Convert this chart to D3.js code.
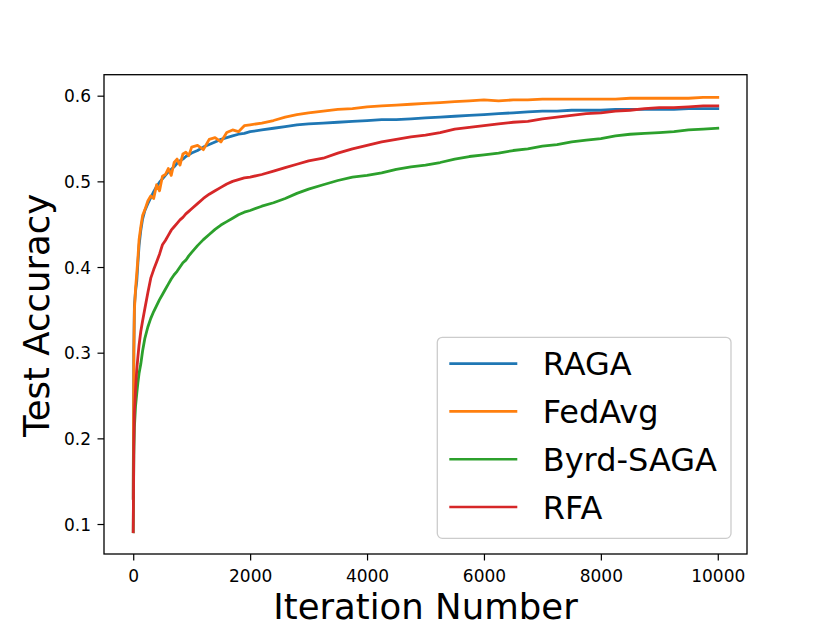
<!DOCTYPE html>
<html>
<head>
<meta charset="utf-8">
<script src="https://cdn.jsdelivr.net/npm/d3@7"></script>
<style>
  html, body { margin: 0; padding: 0; background: #fff; }
  svg { display: block; font-family: "DejaVu Sans", sans-serif; }
</style>
</head>
<body>
<svg id="chart" width="830" height="623"></svg>
<script>
// ---- data ----
const iterations = [0, 10, 20, 40, 60, 80, 100, 130, 160, 200,
  250, 300, 350, 400, 450, 500, 550, 600, 650, 700, 750, 800, 850, 900, 950, 1000,
  1100, 1200, 1300, 1400, 1500, 1600, 1700, 1800, 1900, 2000,
  2200, 2400, 2600, 2800, 3000,
  3250, 3500, 3750, 4000, 4250, 4500, 4750, 5000, 5250, 5500, 5750, 6000,
  6250, 6500, 6750, 7000, 7250, 7500, 7750, 8000, 8250, 8500, 8750, 9000,
  9250, 9500, 9750, 10000];

const ragaValues = [0.13, 0.30, 0.355, 0.372, 0.383, 0.405, 0.425, 0.443, 0.456, 0.466,
  0.474, 0.481, 0.488, 0.494, 0.499, 0.503, 0.507, 0.511, 0.514, 0.517, 0.521, 0.524, 0.526, 0.529, 0.531, 0.533,
  0.536, 0.540, 0.543, 0.546, 0.549, 0.551, 0.553, 0.555, 0.556, 0.558,
  0.560, 0.562, 0.564, 0.566, 0.567,
  0.568, 0.569, 0.570, 0.571, 0.572, 0.572, 0.573, 0.574, 0.575, 0.576, 0.577, 0.578,
  0.579, 0.580, 0.581, 0.582, 0.582, 0.583, 0.583, 0.583, 0.584, 0.584, 0.584, 0.584,
  0.584, 0.585, 0.585, 0.585];

const fedavgValues = [0.13, 0.30, 0.35, 0.375, 0.392, 0.41, 0.432, 0.447, 0.460, 0.467,
  0.477, 0.483, 0.480, 0.496, 0.489, 0.506, 0.508, 0.515, 0.507, 0.522, 0.526, 0.519, 0.532, 0.534, 0.530, 0.540,
  0.542, 0.537, 0.549, 0.551, 0.546, 0.557, 0.560, 0.558, 0.565, 0.566,
  0.568, 0.571, 0.575, 0.578, 0.580,
  0.582, 0.584, 0.585, 0.587, 0.588, 0.589, 0.590, 0.591, 0.592, 0.593, 0.594, 0.595,
  0.594, 0.595, 0.595, 0.596, 0.596, 0.596, 0.596, 0.596, 0.596, 0.597, 0.597, 0.597,
  0.597, 0.597, 0.598, 0.598];

const byrdSagaValues = [0.091, 0.180, 0.213, 0.238, 0.252, 0.265, 0.276, 0.287, 0.302, 0.317,
  0.330, 0.340, 0.348, 0.355, 0.362, 0.368, 0.374, 0.380, 0.386, 0.391, 0.395, 0.400, 0.405, 0.408, 0.413, 0.417,
  0.425, 0.432, 0.438, 0.444, 0.449, 0.453, 0.457, 0.461, 0.464, 0.466,
  0.471, 0.475, 0.480, 0.486, 0.491,
  0.496, 0.501, 0.505, 0.507, 0.510, 0.514, 0.517, 0.519, 0.522, 0.526, 0.529, 0.531,
  0.533, 0.536, 0.538, 0.541, 0.543, 0.546, 0.548, 0.550, 0.553, 0.555, 0.556, 0.557,
  0.558, 0.560, 0.561, 0.562];

const rfaValues = [0.091, 0.190, 0.230, 0.258, 0.280, 0.295, 0.309, 0.325, 0.337, 0.352,
  0.370, 0.387, 0.397, 0.406, 0.415, 0.426, 0.431, 0.437, 0.443, 0.447, 0.451, 0.455, 0.458, 0.462, 0.465, 0.468,
  0.474, 0.480, 0.485, 0.489, 0.493, 0.497, 0.500, 0.502, 0.504, 0.505,
  0.508, 0.512, 0.516, 0.520, 0.524,
  0.527, 0.533, 0.538, 0.542, 0.546, 0.549, 0.552, 0.554, 0.557, 0.561, 0.563, 0.565,
  0.567, 0.569, 0.570, 0.573, 0.575, 0.577, 0.579, 0.580, 0.582, 0.583, 0.585, 0.586,
  0.586, 0.587, 0.588, 0.588];

const seriesNames = ["RAGA", "FedAvg", "Byrd-SAGA", "RFA"];
const seriesColors = ["#1f77b4", "#ff7f0e", "#2ca02c", "#d62728"];
const xTicks = [0, 2000, 4000, 6000, 8000, 10000];
const yTicks = [0.1, 0.2, 0.3, 0.4, 0.5, 0.6];
const xLabel = "Iteration Number";
const yLabel = "Test Accuracy";

// ---- layout ----
const L = 104, R = 747, T = 74.7, B = 554;
const svg = d3.select("#chart");
const x = d3.scaleLinear().domain([-500, 10500]).range([L, R]);
const y = d3.scaleLinear().domain([0.065, 0.6245]).range([B, T]);

const allValues = [ragaValues, fedavgValues, byrdSagaValues, rfaValues];
const series = seriesNames.map((name, i) => ({
  name, color: seriesColors[i],
  points: iterations.map((it, j) => [it, allValues[i][j]])
}));

const plot = svg.append("g");
plot.append("defs").append("clipPath").attr("id", "clip")
  .append("rect").attr("x", L).attr("y", T).attr("width", R - L).attr("height", B - T);

const line = d3.line().x(d => x(d[0])).y(d => y(d[1]));
plot.append("g").attr("clip-path", "url(#clip)")
  .selectAll("path").data(series).join("path")
  .attr("d", d => line(d.points))
  .attr("fill", "none")
  .attr("stroke", d => d.color)
  .attr("stroke-width", 2.8)
  .attr("stroke-linejoin", "round")
  .attr("stroke-linecap", "square");

// axes
const xAxis = svg.append("g").attr("transform", `translate(0,${B})`)
  .call(d3.axisBottom(x).tickValues(xTicks).tickFormat(d3.format("d")).tickSize(6.5).tickSizeOuter(0));
xAxis.select(".domain").remove();
xAxis.selectAll(".tick line").attr("stroke", "#000").attr("stroke-width", 1.2);
xAxis.selectAll(".tick text").attr("y", 27.7).attr("dy", 0)
  .attr("font-size", 17).attr("font-family", "DejaVu Sans").attr("fill", "#000");

const yAxis = svg.append("g").attr("transform", `translate(${L},0)`)
  .call(d3.axisLeft(y).tickValues(yTicks).tickFormat(d3.format(".1f")).tickSize(6.5).tickSizeOuter(0));
yAxis.select(".domain").remove();
yAxis.selectAll(".tick line").attr("stroke", "#000").attr("stroke-width", 1.2);
yAxis.selectAll(".tick text").attr("x", -13).attr("dy", 0).attr("y", 6.2)
  .attr("font-size", 17).attr("font-family", "DejaVu Sans").attr("fill", "#000");

// frame
svg.append("rect").attr("x", L).attr("y", T).attr("width", R - L).attr("height", B - T)
  .attr("fill", "none").attr("stroke", "#000").attr("stroke-width", 1.3);

// labels
svg.append("text").attr("x", (L + R) / 2).attr("y", 619).attr("text-anchor", "middle")
  .attr("font-size", 35.5).attr("fill", "#000").text(xLabel);
svg.append("text").attr("transform", `translate(49,${(T + B) / 2 + 1}) rotate(-90)`)
  .attr("text-anchor", "middle").attr("font-size", 35.5).attr("fill", "#000").text(yLabel);

// legend
const lg = svg.append("g");
lg.append("rect").attr("x", 437.3).attr("y", 337.3).attr("width", 293.7).attr("height", 201)
  .attr("rx", 5).attr("ry", 5)
  .attr("fill", "#fff").attr("fill-opacity", 0.8)
  .attr("stroke", "#cccccc").attr("stroke-width", 1.3);
const legendY = d3.scalePoint().domain(seriesNames).range([363.7, 507]);
const items = lg.selectAll("g.item").data(series).join("g").attr("class", "item")
  .attr("transform", d => `translate(0,${legendY(d.name)})`);
items.append("line").attr("x1", 449.3).attr("x2", 517.3).attr("y1", 0).attr("y2", 0)
  .attr("stroke", d => d.color).attr("stroke-width", 2.7);
items.append("text").attr("x", 542.7).attr("y", 11.7)
  .attr("font-size", 32).attr("fill", "#000").text(d => d.name);
</script>
</body>
</html>
